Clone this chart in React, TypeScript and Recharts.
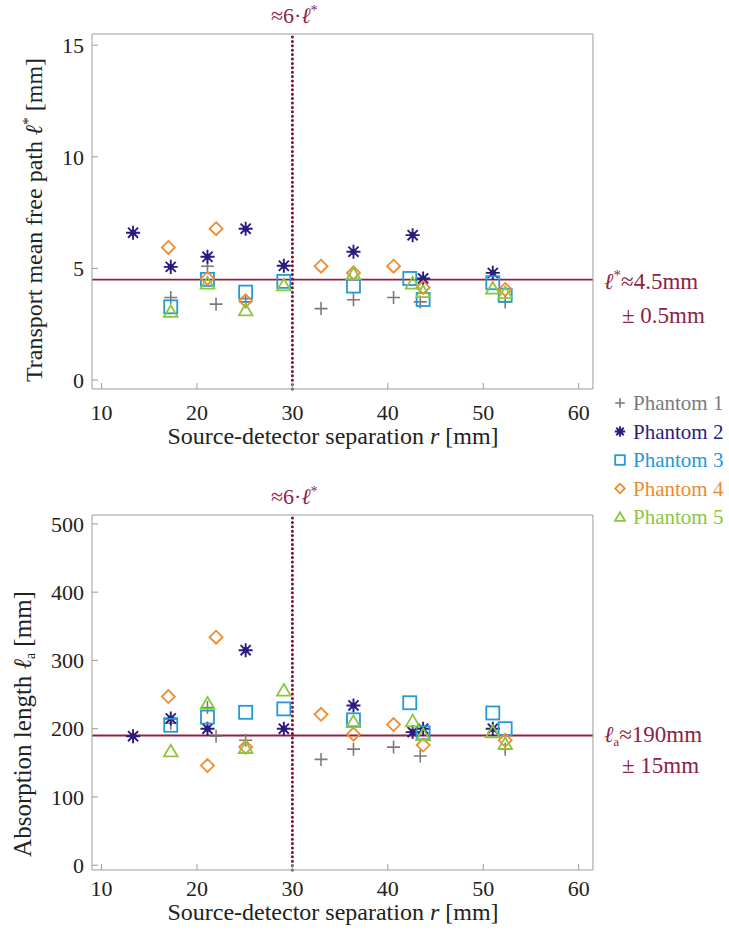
import React from 'react'
import { ReferenceLine, Scatter, ScatterChart, XAxis, YAxis } from 'recharts'

// separation axis (mm)
const separationTicks = [10, 20, 30, 40, 50, 60]
const freePathTicks = [0, 5, 10, 15]
const absorptionTicks = [0, 100, 200, 300, 400, 500]

const phantomNames = ['Phantom 1', 'Phantom 2', 'Phantom 3', 'Phantom 4', 'Phantom 5']
const phantomColors = ['#7b7b7b', '#2d1c7e', '#2499d6', '#ee8a2f', '#8cc63e']
const phantomMarkers = ['plus', 'asterisk', 'square', 'diamond', 'triangle']

// source-detector separation r for every measurement
const phantom1R = [17.25, 21.1, 22.0, 25.1, 33.0, 36.4, 40.6, 43.4, 52.3]
const phantom2R = [13.3, 17.25, 21.1, 25.1, 29.1, 36.4, 42.6, 43.7, 51.0]
const phantom3R = [17.25, 21.1, 25.1, 29.1, 36.4, 42.3, 43.7, 51.0, 52.3]
const phantom4R = [17.0, 21.1, 22.0, 25.1, 33.0, 36.4, 40.6, 43.7, 52.3]
const phantom5R = [17.25, 21.1, 25.1, 29.1, 36.4, 42.6, 43.7, 51.0, 52.3]

// transport mean free path l* (mm)
const phantom1FreePath = [3.7, 5.1, 3.4, 3.5, 3.2, 3.6, 3.7, 3.5, 3.5]
const phantom2FreePath = [6.6, 5.07, 5.52, 6.78, 5.12, 5.75, 6.49, 4.55, 4.8]
const phantom3FreePath = [3.28, 4.51, 3.94, 4.42, 4.21, 4.55, 3.61, 4.36, 3.8]
const phantom4FreePath = [5.94, 4.55, 6.78, 3.55, 5.1, 4.8, 5.1, 4.15, 4.06]
const phantom5FreePath = [3.06, 4.33, 3.13, 4.25, 4.75, 4.33, 3.95, 4.1, 3.9]

// absorption length la (mm)
const phantom1Absorption = [208, 231, 189, 183, 155, 170, 173, 160, 170]
const phantom2Absorption = [189, 215, 200, 315, 200, 234, 195, 200, 200]
const phantom3Absorption = [205, 217, 224, 229, 213, 238, 194, 223, 200]
const phantom4Absorption = [247, 146, 334, 173, 221, 192, 206, 176, 183]
const phantom5Absorption = [167, 237, 172, 256, 210, 211, 191, 195, 178]

const FONT = 'Liberation Serif, DejaVu Serif, serif'
const FRAME = '#9c9c9c'
const ACCENT = '#8c2243'
const DOTTED = '#7c1230'
const THIN = 0.01 // axes need a non-zero size to be drawn

const rows = (r: number[], v: number[]) => r.map((x, i) => ({ r: x, v: v[i] }))
const range = (from: number, to: number, step: number) => {
  const out: number[] = []
  for (let v = from; v <= to + 1e-9; v += step) out.push(Math.round(v * 100) / 100)
  return out
}

const allR = [phantom1R, phantom2R, phantom3R, phantom4R, phantom5R]
const freePathData = [phantom1FreePath, phantom2FreePath, phantom3FreePath, phantom4FreePath, phantom5FreePath].map((v, i) => rows(allR[i], v))
const absorptionData = [phantom1Absorption, phantom2Absorption, phantom3Absorption, phantom4Absorption, phantom5Absorption].map((v, i) => rows(allR[i], v))

function Marker({ kind, cx, cy, color, s = 6.5 }: { kind: string; cx: number; cy: number; color: string; s?: number }) {
  if (kind === 'plus') {
    return <path d={`M${cx - s},${cy}H${cx + s}M${cx},${cy - s}V${cy + s}`} stroke={color} strokeWidth={1.6} fill="none" />
  }
  if (kind === 'asterisk') {
    const a = s * 1.08
    const d = a * 0.72
    return (
      <g stroke={color} strokeWidth={1.9}>
        <path d={`M${cx},${cy - a}V${cy + a}M${cx - d},${cy - d}L${cx + d},${cy + d}M${cx - d},${cy + d}L${cx + d},${cy - d}M${cx - a},${cy}H${cx + a}`} fill="none" />
        <circle cx={cx} cy={cy} r={a * 0.3} fill={color} />
      </g>
    )
  }
  if (kind === 'square') {
    return <rect x={cx - s} y={cy - s} width={2 * s} height={2 * s} fill="none" stroke={color} strokeWidth={1.8} />
  }
  if (kind === 'diamond') {
    return <path d={`M${cx},${cy - s}L${cx + s},${cy}L${cx},${cy + s}L${cx - s},${cy}Z`} fill="none" stroke={color} strokeWidth={1.8} />
  }
  return (
    <path
      d={`M${cx},${cy - s}L${cx + s * 1.05},${cy + s * 0.8}L${cx - s * 1.05},${cy + s * 0.8}Z`}
      fill="none"
      stroke={color}
      strokeWidth={1.8}
    />
  )
}

// phantom key, drawn with the annotation of the upper reference line
function PhantomLegend() {
  const rowH = 28.5
  const x0 = 620
  const y0 = 403
  return (
    <g>
      {phantomNames.map((name, i) => (
        <g key={name}>
          <Marker kind={phantomMarkers[i]} cx={x0} cy={y0 + i * rowH} color={phantomColors[i]} s={4.8} />
          <text x={x0 + 13} y={y0 + i * rowH + 7} fill={phantomColors[i]} fontSize={21}>
            {name}
          </text>
        </g>
      ))}
    </g>
  )
}

interface PanelProps {
  data: { r: number; v: number }[][]
  yDomain: [number, number]
  yTicks: number[]
  yMinor: number[]
  refValue: number
  refMain: React.ReactNode
  refSpread: string
  refOffsets: [number, number]
  yTitle: React.ReactNode
  yTitleX: number
  yTitleY: number
  yTitleSize: number
  xTitleY: number
  tickGap: number
  height: number
  marginTop: number
  marginBottom: number
  legend?: boolean
}

function Panel(p: PanelProps) {
  const rMinor = range(9, 61, 1)
  const axisText = { fontFamily: FONT, fontSize: 22, fill: '#222' }
  return (
    <ScatterChart width={729} height={p.height} margin={{ top: p.marginTop, right: 136, bottom: p.marginBottom, left: 92 }}>
      <XAxis
        xAxisId="b"
        type="number"
        dataKey="r"
        domain={[9, 61.5]}
        allowDataOverflow
        ticks={separationTicks}
        interval={0}
        height={THIN}
        tickSize={-6}
        tickMargin={p.tickGap}
        tick={axisText}
        stroke={FRAME}
        tickLine={{ stroke: FRAME }}
        label={() => (
          <text x={333} y={p.xTitleY} textAnchor="middle" fontFamily={FONT} fontSize={24} fill="#222">
            Source-detector separation <tspan fontStyle="italic">r</tspan> [mm]
          </text>
        )}
      />
      <XAxis xAxisId="bm" type="number" domain={[9, 61.5]} allowDataOverflow ticks={rMinor} interval={0} height={THIN} tickSize={-3} tick={false} axisLine={false} tickLine={{ stroke: FRAME }} />
      <XAxis xAxisId="t" orientation="top" type="number" domain={[9, 61.5]} allowDataOverflow ticks={separationTicks} interval={0} height={THIN} tickSize={-6} tick={false} stroke={FRAME} tickLine={{ stroke: FRAME }} />
      <XAxis xAxisId="tm" orientation="top" type="number" domain={[9, 61.5]} allowDataOverflow ticks={rMinor} interval={0} height={THIN} tickSize={-3} tick={false} axisLine={false} tickLine={{ stroke: FRAME }} />
      <YAxis
        yAxisId="l"
        type="number"
        dataKey="v"
        domain={p.yDomain}
        allowDataOverflow
        ticks={p.yTicks}
        interval={0}
        width={THIN}
        tickSize={-6}
        tickMargin={14}
        tick={axisText}
        stroke={FRAME}
        tickLine={{ stroke: FRAME }}
        label={() => (
          <text
            x={p.yTitleX}
            y={p.yTitleY}
            transform={`rotate(-90 ${p.yTitleX} ${p.yTitleY})`}
            textAnchor="middle"
            fontFamily={FONT}
            fontSize={p.yTitleSize}
            fill="#222"
          >
            {p.yTitle}
          </text>
        )}
      />
      <YAxis yAxisId="lm" type="number" domain={p.yDomain} allowDataOverflow ticks={p.yMinor} interval={0} width={THIN} tickSize={-3} tick={false} axisLine={false} tickLine={{ stroke: FRAME }} />
      <YAxis yAxisId="r" orientation="right" type="number" domain={p.yDomain} allowDataOverflow ticks={p.yTicks} interval={0} width={THIN} tickSize={-6} tick={false} stroke={FRAME} tickLine={{ stroke: FRAME }} />
      <YAxis yAxisId="rm" orientation="right" type="number" domain={p.yDomain} allowDataOverflow ticks={p.yMinor} interval={0} width={THIN} tickSize={-3} tick={false} axisLine={false} tickLine={{ stroke: FRAME }} />

      <ReferenceLine
        xAxisId="b"
        yAxisId="l"
        y={p.refValue}
        stroke={ACCENT}
        strokeWidth={1.8}
        label={(props: any) => {
          const vb = props.viewBox
          const x0 = vb.x + vb.width + 11
          return (
            <g fontFamily={FONT} fontSize={23} fill={ACCENT}>
              <text x={x0} y={vb.y + p.refOffsets[0]}>{p.refMain}</text>
              <text x={x0 + 18} y={vb.y + p.refOffsets[1]}>{p.refSpread}</text>
              {p.legend && <PhantomLegend />}
            </g>
          )
        }}
      />
      <ReferenceLine
        xAxisId="b"
        yAxisId="l"
        x={30}
        stroke={DOTTED}
        strokeWidth={3}
        strokeDasharray="0 4.4"
        strokeLinecap="round"
        label={(props: any) => {
          const vb = props.viewBox
          return (
            <text x={vb.x + 2} y={vb.y - 11} textAnchor="middle" fontFamily={FONT} fontSize={22} fill={ACCENT}>
              ≈6·<tspan fontStyle="italic">ℓ</tspan>
              <tspan fontSize="0.65em" dy={-8}>*</tspan>
            </text>
          )
        }}
      />

      {p.data.map((series, i) => (
        <Scatter
          key={phantomNames[i]}
          name={phantomNames[i]}
          data={series}
          xAxisId="b"
          yAxisId="l"
          isAnimationActive={false}
          shape={(sp: any) => <Marker kind={phantomMarkers[i]} cx={sp.cx} cy={sp.cy} color={phantomColors[i]} />}
        />
      ))}
    </ScatterChart>
  )
}

export default function App() {
  return (
    <div style={{ position: 'absolute', left: 0, top: 0, width: 729, height: 930, overflow: 'hidden', background: '#fff' }}>
      <div style={{ position: 'absolute', left: 0, top: 470 }}>
        <Panel
          data={absorptionData}
          yDomain={[-7, 513]}
          yTicks={absorptionTicks}
          yMinor={range(0, 510, 10)}
          refValue={190}
          refMain={
            <>
              <tspan fontStyle="italic">ℓ</tspan>
              <tspan fontSize="0.55em" dy={4}>a</tspan>
              <tspan dy={-4}>≈190mm</tspan>
            </>
          }
          refSpread="± 15mm"
          refOffsets={[6, 37]}
          yTitle={
            <>
              Absorption length <tspan fontStyle="italic">ℓ</tspan>
              <tspan fontSize="0.55em" dy={4}>a</tspan>
              <tspan dy={-4}> [mm]</tspan>
            </>
          }
          yTitleX={31}
          yTitleY={254}
          yTitleSize={25}
          xTitleY={450}
          tickGap={16}
          height={460}
          marginTop={45}
          marginBottom={60}
        />
      </div>
      <div style={{ position: 'absolute', left: 0, top: 0 }}>
        <Panel
          data={freePathData}
          yDomain={[-0.4, 15.5]}
          yTicks={freePathTicks}
          yMinor={range(0, 15, 1)}
          refValue={4.5}
          refMain={
            <>
              <tspan fontStyle="italic">ℓ</tspan>
              <tspan fontSize="0.65em" dy={-9}>*</tspan>
              <tspan dy={9}>≈4.5mm</tspan>
            </>
          }
          refSpread="± 0.5mm"
          refOffsets={[9, 43]}
          yTitle={
            <>
              Transport mean free path <tspan fontStyle="italic">ℓ</tspan>
              <tspan fontSize="0.65em" dy={-9}>*</tspan>
              <tspan dy={9}> [mm]</tspan>
            </>
          }
          yTitleX={42}
          yTitleY={220}
          yTitleSize={24}
          xTitleY={444}
          tickGap={21}
          height={530}
          marginTop={34}
          marginBottom={141}
          legend
        />
      </div>
    </div>
  )
}
